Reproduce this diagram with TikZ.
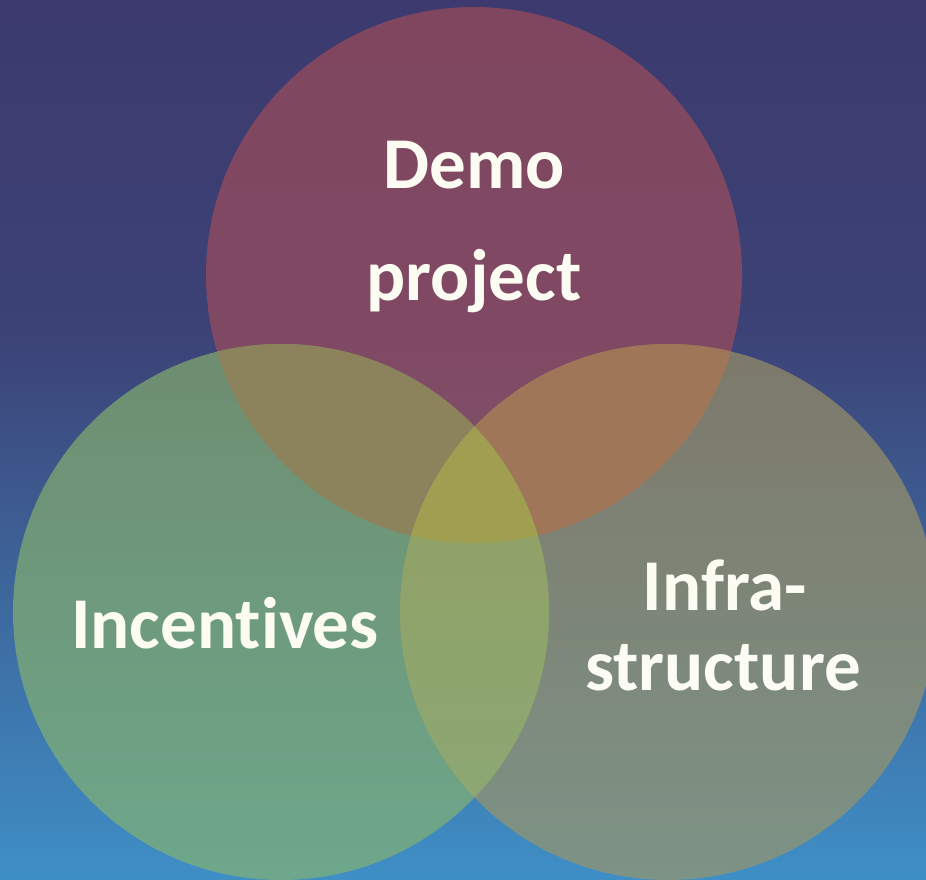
\documentclass[tikz,border=0pt]{standalone}
\usepackage{fontspec}
\setmainfont{Carlito}[Ligatures=NoCommon]
\definecolor{bgA}{RGB}{60,58,110}
\definecolor{bgB}{RGB}{60,66,118}
\definecolor{bgC}{RGB}{62,143,198}
\definecolor{cTop}{RGB}{165,77,89}
\definecolor{cLeft}{RGB}{137,181,108}
\definecolor{cRight}{RGB}{160,150,100}
\definecolor{lensTL}{RGB}{140,130,92}
\definecolor{lensTR}{RGB}{160,118,88}
\definecolor{lensLRa}{RGB}{145,160,98}
\definecolor{lensLRb}{RGB}{140,168,118}
\definecolor{lensC}{RGB}{160,158,80}
\definecolor{txt}{RGB}{252,252,242}
\begin{document}
\begin{tikzpicture}[x=1pt,y=-1pt,
  lbl/.style={text=txt, font=\fontsize{73}{80}\selectfont\bfseries, inner sep=0pt, anchor=base},
  circ/.style={opacity=0.65}]
\useasboundingbox (0,0) rectangle (926,879);
\shade[top color=bgA, bottom color=bgB] (0,0) rectangle (926,331);
\shade[top color=bgB, bottom color=bgC] (0,330) rectangle (926,879);
\coordinate (ct) at (474,275);
\coordinate (cl) at (281,612);
\coordinate (cr) at (668,612);
\fill[cTop, circ] (ct) circle[radius=268pt];
\fill[cLeft, circ] (cl) circle[radius=268pt];
\fill[cRight, circ] (cr) circle[radius=268pt];
% top-left lens
\begin{scope}
  \clip (ct) circle[radius=268pt];
  \clip (cl) circle[radius=268pt];
  \fill[lensTL] (0,0) rectangle (926,879);
\end{scope}
% top-right lens
\begin{scope}
  \clip (ct) circle[radius=268pt];
  \clip (cr) circle[radius=268pt];
  \fill[lensTR] (0,0) rectangle (926,879);
\end{scope}
% left-right lens
\begin{scope}
  \clip (cl) circle[radius=268pt];
  \clip (cr) circle[radius=268pt];
  \shade[top color=lensLRa, bottom color=lensLRb] (380,420) rectangle (570,840);
\end{scope}
% centre
\begin{scope}
  \clip (ct) circle[radius=268pt];
  \clip (cl) circle[radius=268pt];
  \clip (cr) circle[radius=268pt];
  \fill[lensC] (0,0) rectangle (926,879);
\end{scope}
\node[lbl] (demo) at (474,188) {Demo};
\node[lbl] (proj) at (474,300) {project};
\node[lbl] (inc) at (225,648) {Incentives};
\node[lbl] (infra) at (725,610) {Infra-};
\node[lbl] (struct) at (723,690) {structure};
\end{tikzpicture}
\end{document}
